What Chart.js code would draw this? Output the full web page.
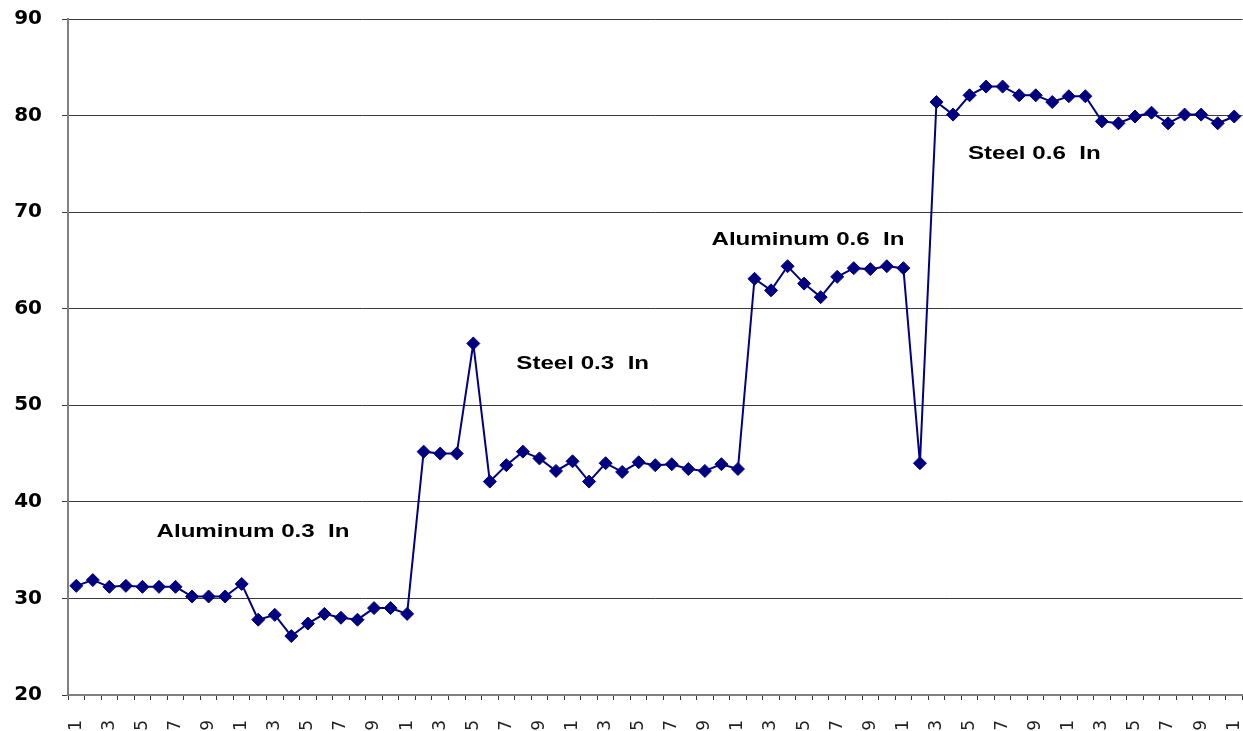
<!DOCTYPE html>
<html>
<head>
<meta charset="utf-8">
<script src="https://cdn.jsdelivr.net/npm/chart.js@4/dist/chart.umd.min.js"></script>
<style>
    html, body { margin: 0; padding: 0; background: #fff; overflow: hidden; }
    #wrap { width: 1243px; height: 731px; overflow: hidden; }
</style>
</head>
<body>
<!-- canvas a bit wider than the window so the plot runs to the right edge -->
<div id="wrap"><canvas id="testChart" width="1250" height="731"></canvas></div>
<script>
// sample numbers 1..71
const samples = []
for (let i = 1; i <= 71; i++) samples.push(String(i))

// readings
const readings = [
    31.3, 31.9, 31.2, 31.3, 31.2, 31.2, 31.2, 30.2, 30.2, 30.2,
    31.5, 27.8, 28.3, 26.1, 27.4, 28.4, 28.0, 27.8, 29.0, 29.0,
    28.4, 45.2, 45.0, 45.0, 56.4, 42.1, 43.8, 45.2, 44.5, 43.2,
    44.2, 42.1, 44.0, 43.1, 44.1, 43.8, 43.9, 43.4, 43.2, 43.9,
    43.4, 63.1, 61.9, 64.4, 62.6, 61.2, 63.3, 64.2, 64.1, 64.4,
    64.2, 44.0, 81.4, 80.1, 82.1, 83.0, 83.0, 82.1, 82.1, 81.4,
    82.0, 82.0, 79.4, 79.2, 79.9, 80.3, 79.2, 80.1, 80.1, 79.2,
    79.9,
]

// y axis
const yMin = 20
const yMax = 90
const yStep = 10

// group labels: text, sample index (0-based, left edge), reading at the text middle
const groupTexts = ["Aluminum 0.3  In", "Steel 0.3  In", "Aluminum 0.6  In", "Steel 0.6  In"]
const groupAtSample = [4.85, 26.6, 38.4, 53.9]
const groupAtReading = [36.9, 54.3, 67.1, 76.0]

const navy = "#000080"

// draws the group names on the plot
const groupLabels = {
    id: "groupLabels",
    afterDatasetsDraw(chart) {
        const ctx = chart.ctx
        const xs = chart.scales.x
        const ys = chart.scales.y
        ctx.save()
        ctx.fillStyle = "#000"
        ctx.font = "bold 19px 'Liberation Sans', Arial, sans-serif"
        ctx.textAlign = "left"
        ctx.textBaseline = "middle"
        groupTexts.forEach((t, i) => {
            const px = xs.getPixelForValue(groupAtSample[i])
            const py = ys.getPixelForValue(groupAtReading[i])
            ctx.save()
            ctx.translate(px, py)
            ctx.scale(1.27, 1) // text in the picture is stretched wide
            ctx.fillText(t, 0, 0)
            ctx.restore()
        })
        ctx.restore()
    },
}

const ctx = document.getElementById("testChart").getContext("2d")

const testChart = new Chart(ctx, {
    type: "line",
    data: {
        labels: samples,
        datasets: [
            {
                data: readings,
                borderColor: navy,
                backgroundColor: navy,
                borderWidth: 2,
                pointStyle: "rectRot",
                pointRadius: 6.5,
                pointBorderWidth: 1,
                pointBorderColor: navy,
                pointBackgroundColor: navy,
                tension: 0,
            },
        ],
    },
    options: {
        responsive: false,
        animation: false,
        layout: { padding: { top: 19, right: 0, left: 0, bottom: 0 } },
        plugins: {
            legend: { display: false },
            tooltip: { enabled: false },
        },
        scales: {
            x: {
                type: "category",
                offset: true,
                grid: {
                    offset: true,
                    drawOnChartArea: false,
                    drawTicks: true,
                    tickLength: 5,
                    color: "#333",
                },
                border: { color: "#808080", width: 2 },
                ticks: {
                    autoSkip: false,
                    maxRotation: 90,
                    minRotation: 90,
                    padding: 20,
                    color: "#222",
                    font: { family: "'DejaVu Sans', sans-serif", size: 17 },
                    callback: function (value, index) {
                        return index % 2 === 0 ? this.getLabelForValue(value) : ""
                    },
                },
                afterFit(scale) {
                    scale.height = 36
                    scale.paddingLeft = 0
                    scale.paddingRight = 0
                },
            },
            y: {
                min: yMin,
                max: yMax,
                grid: {
                    color: "#3a3a3a",
                    lineWidth: 1,
                    tickLength: 6,
                },
                border: { color: "#808080", width: 2 },
                ticks: {
                    stepSize: yStep,
                    padding: 20,
                    color: "#000",
                    font: { family: "'DejaVu Sans', sans-serif", size: 20, weight: "bold" },
                },
                afterFit(scale) {
                    scale.width = 68
                    scale.paddingTop = 0
                    scale.paddingBottom = 0
                },
            },
        },
    },
    plugins: [groupLabels],
})
</script>
</body>
</html>
